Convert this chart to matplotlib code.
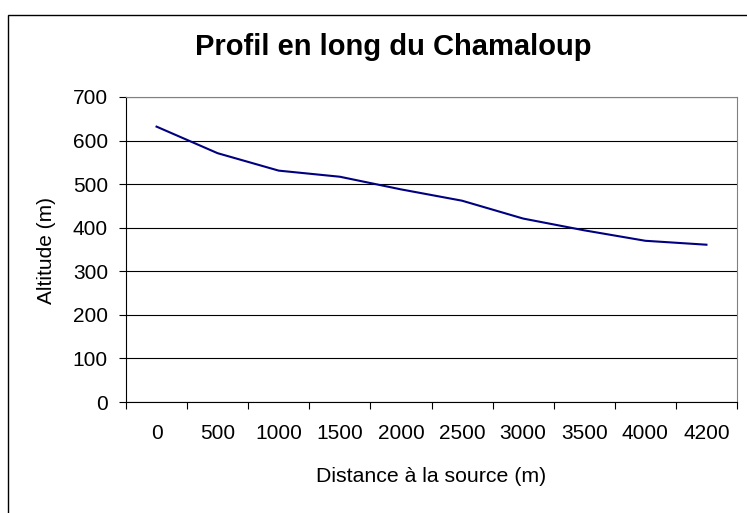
import matplotlib
matplotlib.use("Agg")
import matplotlib.pyplot as plt
from matplotlib.patches import Rectangle

categories = ["0", "500", "1000", "1500", "2000", "2500", "3000", "3500", "4000", "4200"]
altitude = [632, 571, 531, 517, 488, 462, 421, 394, 370, 361]
y_ticks = [0, 100, 200, 300, 400, 500, 600, 700]

plt.rcParams['font.family'] = ['Liberation Sans', 'DejaVu Sans']

W, H = 747, 513
fig = plt.figure(figsize=(W / 100, H / 100), dpi=100)

# outer chart frame
fig.patches.append(Rectangle((8 / W, -0.1), 1.2, (H - 15) / H + 0.1, transform=fig.transFigure,
                             fill=False, edgecolor='black', linewidth=1.0))

left, right, top, bottom = 126, 737, 97, 402
ax = fig.add_axes([left / W, (H - bottom) / H, (right - left) / W, (bottom - top) / H])

x = list(range(len(categories)))
ax.plot(x, altitude, color='#000080', linewidth=1.5)

ax.set_xlim(-0.5, len(categories) - 0.5)
ax.set_ylim(0, 700)
ax.set_yticks(y_ticks)
ax.set_yticklabels([str(v) for v in y_ticks])
ax.yaxis.grid(True, color='black', linewidth=0.8)
ax.set_axisbelow(True)

ax.set_xticks([i - 0.5 for i in range(len(categories) + 1)])
ax.set_xticklabels([])
ax.set_xticks(x, minor=True)
ax.set_xticklabels(categories, minor=True)
ax.tick_params(axis='x', which='major', direction='out', length=5, width=0.8)
ax.tick_params(axis='x', which='minor', length=0, pad=16, labelsize=15)
ax.tick_params(axis='y', direction='out', length=5, width=0.8, pad=8, labelsize=15)

for s in ['top', 'right']:
    ax.spines[s].set_color('#808080')
    ax.spines[s].set_linewidth(0.8)
for s in ['left', 'bottom']:
    ax.spines[s].set_color('black')
    ax.spines[s].set_linewidth(0.8)

fig.text(393 / W, 1 - 47 / H, "Profil en long du Chamaloup", ha='center', va='center',
         fontsize=21, fontweight='bold')
fig.text(431 / W, 1 - 476 / H, "Distance à la source (m)", ha='center', va='center', fontsize=15.3)
fig.text(47 / W, 1 - 251 / H, "Altitude (m)", ha='center', va='center', rotation=90, fontsize=15)

fig.savefig("out.png", dpi=100)
